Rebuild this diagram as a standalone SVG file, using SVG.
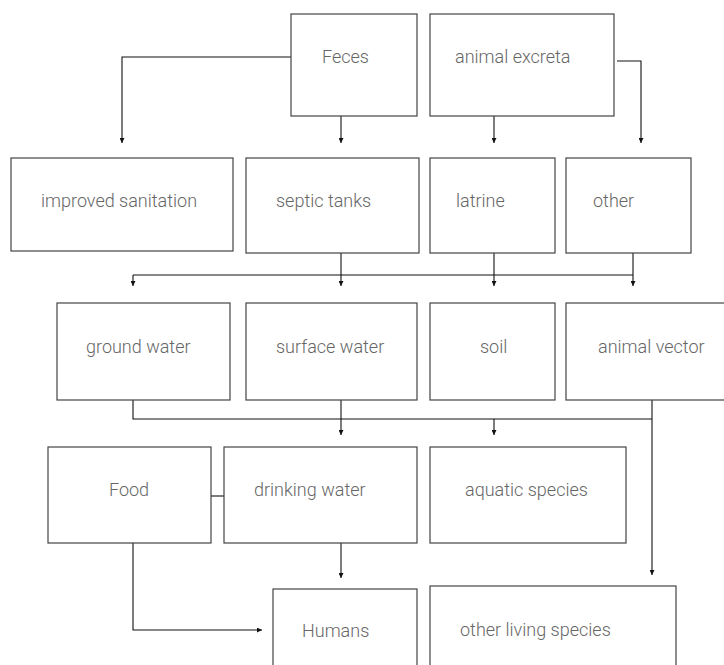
<svg xmlns="http://www.w3.org/2000/svg" width="724" height="665" viewBox="0 0 724 665">
<defs>
<marker id="ah" viewBox="0 0 6 6" refX="6" refY="3" markerWidth="5" markerHeight="5" markerUnits="userSpaceOnUse" orient="auto">
<path d="M0,0 L6,3 L0,6 z" fill="#111"/>
</marker>
<style>
.box{fill:#fff;stroke:#444;stroke-width:1.2}
.lbl{font-family:Roboto,"Liberation Sans",Arial,sans-serif;font-weight:300;font-size:18px;fill:#666}
.con{fill:none;stroke:#111;stroke-width:1.1}
.arr{marker-end:url(#ah)}
</style>
</defs>
<rect width="724" height="665" fill="#fff"/>
<g id="connectors">
<path class="con arr" d="M291,57 H122 V143"/>
<path class="con arr" d="M341,116 V143"/>
<path class="con arr" d="M494,116 V143"/>
<path class="con arr" d="M617,61 H641 V143"/>
<path class="con" d="M133,275 H633"/>
<path class="con arr" d="M133,275 V286"/>
<path class="con arr" d="M341,253 V286"/>
<path class="con arr" d="M494,253 V286"/>
<path class="con arr" d="M633,253 V286"/>
<path class="con" d="M133,400 V419 H652"/>
<path class="con arr" d="M652,400 V575"/>
<path class="con arr" d="M341,400 V435"/>
<path class="con arr" d="M494,419 V435"/>
<path class="con" d="M211,496 H228"/>
<path class="con arr" d="M341,543 V578"/>
<path class="con arr" d="M133,543 V630 H262"/>
</g>
<g id="feces"><rect class="box" x="291" y="14" width="126" height="102"/><text class="lbl" x="322" y="63">Feces</text></g>
<g id="animal-excreta"><rect class="box" x="430" y="14" width="184" height="102"/><text class="lbl" x="455" y="63">animal excreta</text></g>
<g id="improved-sanitation"><rect class="box" x="11" y="158" width="222" height="93"/><text class="lbl" x="41" y="207">improved sanitation</text></g>
<g id="septic-tanks"><rect class="box" x="246" y="158" width="173" height="95"/><text class="lbl" x="276" y="207">septic tanks</text></g>
<g id="latrine"><rect class="box" x="430" y="158" width="125" height="95"/><text class="lbl" x="456" y="207">latrine</text></g>
<g id="other"><rect class="box" x="566" y="158" width="125" height="95"/><text class="lbl" x="593" y="207">other</text></g>
<g id="ground-water"><rect class="box" x="57" y="303" width="173" height="97"/><text class="lbl" x="86" y="353">ground water</text></g>
<g id="surface-water"><rect class="box" x="246" y="303" width="171" height="97"/><text class="lbl" x="276" y="353">surface water</text></g>
<g id="soil"><rect class="box" x="430" y="303" width="125" height="97"/><text class="lbl" x="480" y="353">soil</text></g>
<g id="animal-vector"><rect class="box" x="566" y="303" width="170" height="97"/><text class="lbl" x="598" y="353">animal vector</text></g>
<g id="food"><rect class="box" x="48" y="447" width="163" height="96"/><text class="lbl" x="109" y="496">Food</text></g>
<g id="drinking-water"><rect class="box" x="224" y="447" width="193" height="96"/><text class="lbl" x="254" y="496">drinking water</text></g>
<g id="aquatic-species"><rect class="box" x="430" y="447" width="196" height="96"/><text class="lbl" x="465" y="496">aquatic species</text></g>
<g id="humans"><rect class="box" x="273" y="589" width="144" height="90"/><text class="lbl" x="302" y="637">Humans</text></g>
<g id="other-living-species"><rect class="box" x="430" y="586" width="246" height="90"/><text class="lbl" x="460" y="636">other living species</text></g>
</svg>
